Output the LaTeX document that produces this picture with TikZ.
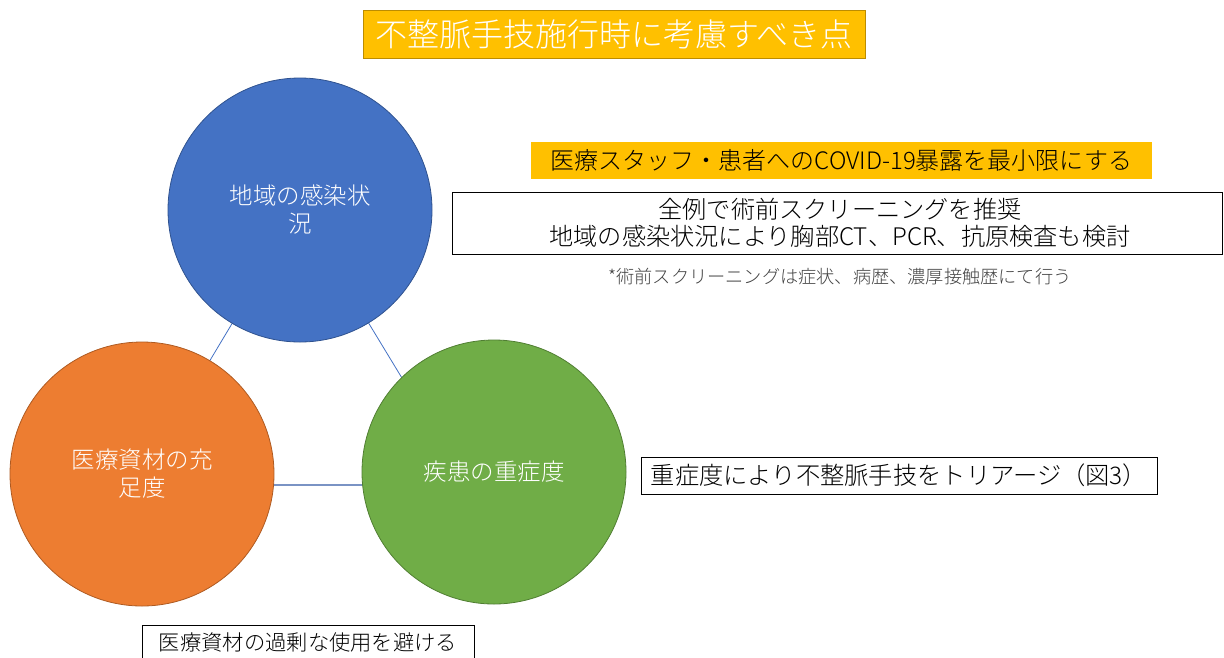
\documentclass[tikz,border=0pt]{standalone}
\usepackage{fontspec}
\setmainfont{Noto Sans CJK JP Light}
\usetikzlibrary{backgrounds}
\definecolor{cblue}{HTML}{4472C4}
\definecolor{cbluedk}{HTML}{2F528F}
\definecolor{corange}{HTML}{ED7D31}
\definecolor{corangedk}{HTML}{AE5A21}
\definecolor{cgreen}{HTML}{70AD47}
\definecolor{cgreendk}{HTML}{507E32}
\definecolor{cyellow}{HTML}{FFC000}
\definecolor{cyellowdk}{HTML}{BC8C00}
\definecolor{clink}{HTML}{7A93C4}
\newcommand{\fs}[1]{\fontsize{#1}{#1}\selectfont}
\begin{document}
\begin{tikzpicture}[x=1pt,y=-1pt,
  topic/.style={circle,minimum size=264pt,inner sep=0pt,line width=0.8pt,text=white,align=center,font=\fontsize{23.5}{28}\selectfont},
  box/.style={draw=black,line width=0.8pt,fill=white,inner sep=0pt,align=center,font=\fontsize{24.2}{27}\selectfont},
  link/.style={draw=cblue,line width=0.8pt}]
\useasboundingbox (0,0) rectangle (1224,657);
% title
\node[fill=cyellow,draw=cyellowdk,line width=0.8pt,minimum width=502pt,minimum height=48pt,inner sep=0pt,text=white,font=\fs{32}] (title) at (614,34) {不整脈手技施行時に考慮すべき点};
% circles
\node[topic,fill=cblue,draw=cbluedk] (b) at (300,210) {地域の感染状\\況};
\node[topic,fill=corange,draw=corangedk] (o) at (142,474) {医療資材の充\\足度};
\node[topic,fill=cgreen,draw=cgreendk] (g) at (494,472) {疾患の重症度};
\begin{pgfonlayer}{background}
\draw[link] (b.center) -- (o.center);
\draw[link] (b.center) -- ([xshift=-35pt]g.center);
\draw[draw=clink,line width=1.5pt] ([yshift=-11pt]o.center) -- ([yshift=-11pt]o.center -| g.center);
\end{pgfonlayer}
% right texts
\node[fill=cyellow,minimum width=621pt,minimum height=37pt,inner sep=0pt,font=\fs{24}] (goal) at (841.5,160.5) {医療スタッフ・患者へのCOVID-19暴露を最小限にする};
\node[box,minimum width=770pt,minimum height=62pt] (screen) at (837,223) {\hspace*{6pt}全例で術前スクリーニングを推奨\\\hspace*{6pt}地域の感染状況により胸部CT、PCR、抗原検査も検討};
\node[text=black!75,font=\fs{18.2},inner sep=0pt] (note) at (840,277) {*術前スクリーニングは症状、病歴、濃厚接触歴にて行う};
\node[box,minimum width=516pt,minimum height=37pt,font=\fs{24.3}] (triage) at (899,475.5) {重症度により不整脈手技をトリアージ（図3）};
\node[box,minimum width=332pt,minimum height=34pt,font=\fs{21.3}] (avoid) at (308,642) {医療資材の過剰な使用を避ける};
\end{tikzpicture}
\end{document}
